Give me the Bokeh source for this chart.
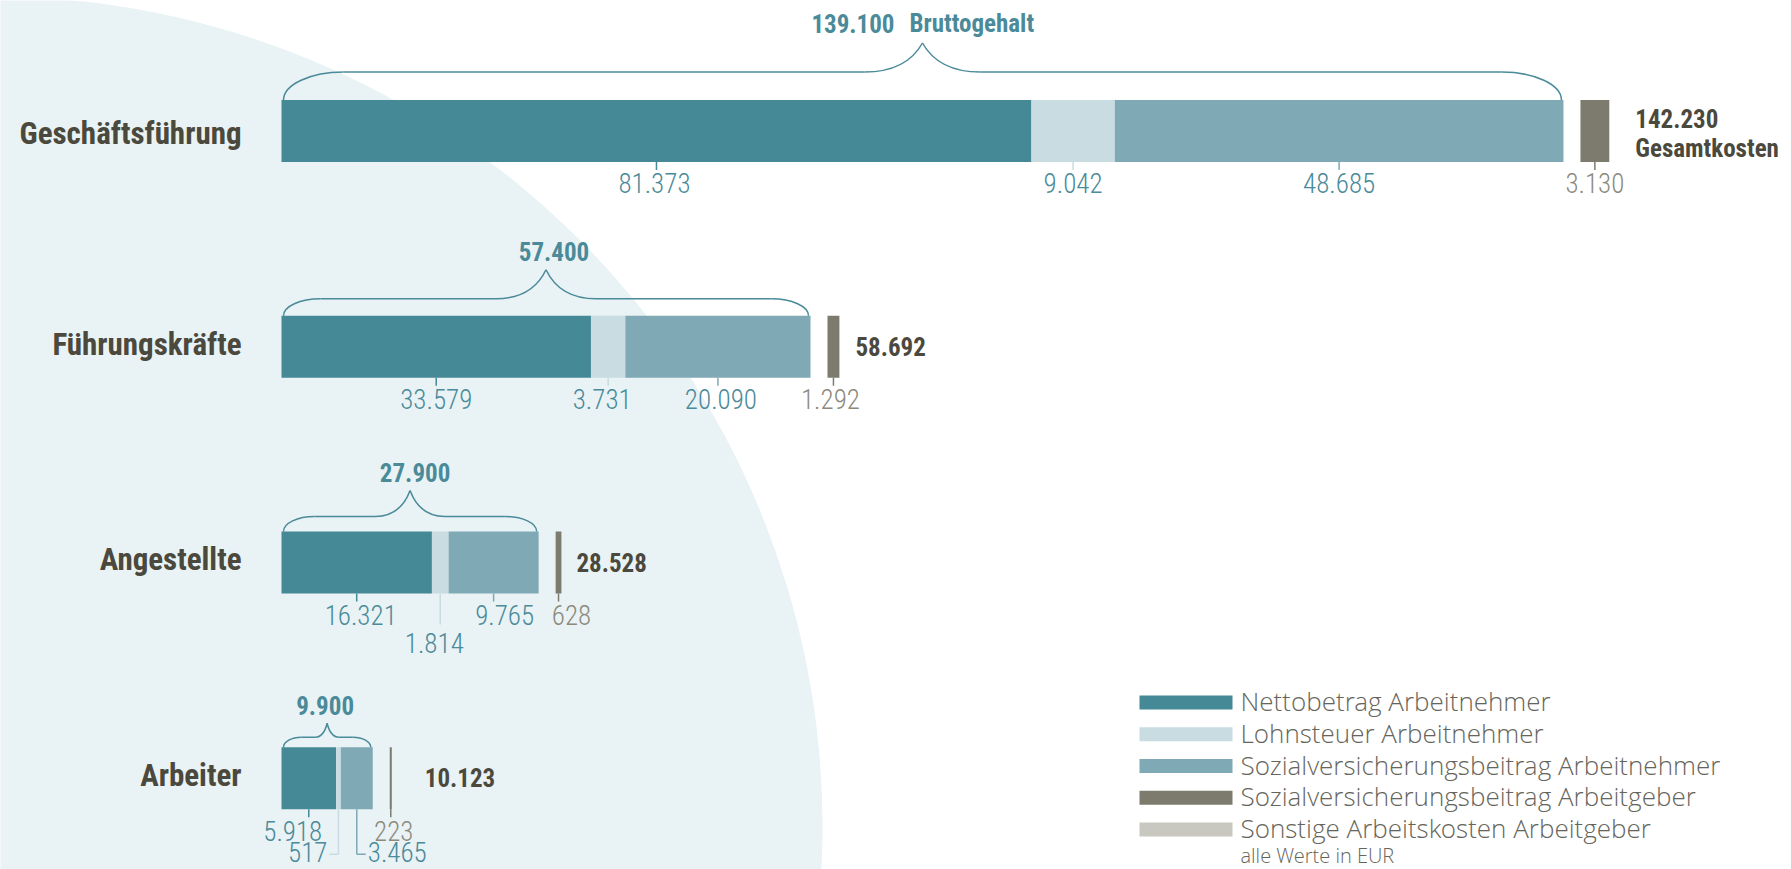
from bokeh.plotting import figure
from bokeh.models import Range1d
from bokeh.core.properties import value
from bokeh.embed import file_html
from bokeh.resources import INLINE

# ---------------- data ----------------
categories = ["Geschäftsführung", "Führungskräfte", "Angestellte", "Arbeiter"]
netto_an = [81373, 33579, 16321, 5918]
lohnsteuer_an = [9042, 3731, 1814, 517]
sozialvers_an = [48685, 20090, 9765, 3465]
sozialvers_ag = [3130, 1292, 628, 223]
bruttogehalt = [139100, 57400, 27900, 9900]
gesamtkosten = [142230, 58692, 28528, 10123]
series_labels = [
    "Nettobetrag Arbeitnehmer",
    "Lohnsteuer Arbeitnehmer",
    "Sozialversicherungsbeitrag Arbeitnehmer",
    "Sozialversicherungsbeitrag Arbeitgeber",
    "Sonstige Arbeitskosten Arbeitgeber",
]
brutto_caption = "Bruttogehalt"
gesamt_caption = "Gesamtkosten"
unit_note = "alle Werte in EUR"

# ---------------- styles ----------------
C_NET, C_LST, C_SVAN, C_SVAG, C_SONST = "#458896", "#c8dce2", "#7fa9b5", "#7d7b6e", "#c8c8c0"
SERIES_COLORS = [C_NET, C_LST, C_SVAN, C_SVAG, C_SONST]
C_BG = "#e9f2f4"
C_DARK = "#4b493d"
C_TEAL = "#4a8a99"
C_GRAYTXT = "#8c8a7d"
C_LEGTXT = "#66655b"
F_BOLD = "Roboto Condensed, Roboto, sans-serif"
F_LIGHT = "Roboto Condensed Light, Roboto Condensed, Roboto, sans-serif"
F_LEG = "Open Sans Light, Open Sans, sans-serif"

W, H = 1791, 869
X0_PX = 281          # pixel of 0 EUR
PX_PER_EUR = 0.009216
ROW0_PX = 130.5      # pixel of first row centre
ROW_PX = 215.75      # pixels between rows
BAR_PX = 62
GAP_PX = 17
BASE_CORR = 0.36     # measured shift of the rendered baseline, in em


def xpx(px):
    return (px - X0_PX) / PX_PER_EUR


def ypx(py):
    return (py - ROW0_PX) / ROW_PX


def dxe(px):
    return px / PX_PER_EUR


def dyi(px):
    return px / ROW_PX


def fmt(v):
    return f"{v:,}".replace(",", ".")


p = figure(width=W, height=H, x_range=Range1d(xpx(0), xpx(W)), y_range=Range1d(ypx(H), ypx(0)),
           x_axis_type=None, y_axis_type=None, output_backend="svg", toolbar_location=None,
           min_border=0)
p.grid.visible = False
p.outline_line_color = None
p.background_fill_color = "white"
p.border_fill_color = "white"


def txt(x, y, text, size, font, color, align="left", bold=False, **kw):
    """text whose alphabetic baseline sits at data y"""
    ys = [v - dyi(BASE_CORR * size) for v in y]
    p.text(x=x, y=ys, text=text, text_font=value(font), text_font_size=f"{size}px",
           text_font_style="bold" if bold else "normal", text_color=color, text_align=align,
           text_baseline="alphabetic", **kw)


# background circle
p.scatter(x=[xpx(-8)], y=[ypx(826)], size=1660, marker="circle", fill_color=C_BG, line_color=None)

rows = list(range(len(categories)))
half = dyi(BAR_PX) / 2

l_net = [0] * len(rows)
r_net = list(netto_an)
l_lst = r_net
r_lst = [a + b for a, b in zip(r_net, lohnsteuer_an)]
l_sv = r_lst
r_sv = [a + b for a, b in zip(r_lst, sozialvers_an)]
l_ag = [b + dxe(GAP_PX) for b in bruttogehalt]
r_ag = [a + b for a, b in zip(l_ag, sozialvers_ag)]

segs = [(l_net, r_net, C_NET, netto_an, C_TEAL),
        (l_lst, r_lst, C_LST, lohnsteuer_an, C_TEAL),
        (l_sv, r_sv, C_SVAN, sozialvers_an, C_TEAL),
        (l_ag, r_ag, C_SVAG, sozialvers_ag, C_GRAYTXT)]

for l, r, c, _, _ in segs:
    p.hbar(y=rows, left=l, right=r, height=dyi(BAR_PX), fill_color=c, line_color=None)

# value labels under bars
LABEL_MODE = [["below", "below", "below", "below"],
              ["below", "below", "below", "below"],
              ["below", "below2", "below", "below"],
              ["below", "elbow_left", "elbow_right", "below"]]
LABEL_DX = [[-2, 0, 0, 0], [0, -6, 3, -3], [4, -6, 11, 13], [-16, 0, 0, 3]]
VAL_SIZE = 27

for s, (l, r, c, vals, tc) in enumerate(segs):
    for i in rows:
        xc = (l[i] + r[i]) / 2
        yb = i + half
        mode = LABEL_MODE[i][s]
        t = fmt(vals[i])
        if mode in ("below", "below2"):
            tick = 8 if mode == "below" else 31
            base = 31 if mode == "below" else 59
            p.segment(x0=[xc], y0=[yb], x1=[xc], y1=[yb + dyi(tick)], line_color=c, line_width=1.5)
            txt([xc + dxe(LABEL_DX[i][s])], [yb + dyi(base)], [t], VAL_SIZE, F_LIGHT, tc, "center")
        else:
            sign = -1 if mode == "elbow_left" else 1
            ye = yb + dyi(45)
            p.segment(x0=[xc], y0=[yb], x1=[xc], y1=[ye], line_color=c, line_width=1.5)
            p.segment(x0=[xc], y0=[ye], x1=[xc + sign * dxe(9)], y1=[ye], line_color=c, line_width=1.5)
            txt([xc + sign * dxe(11)], [yb + dyi(52)], [t], VAL_SIZE, F_LIGHT, tc,
                "right" if sign < 0 else "left")

# braces above bars
BRACE = [(60, 28, 58, 29), (37, 17, 50, 29), (31, 15, 35, 26), (18, 10, 12, 14)]
BRACE_LABEL_DX = [0, 8, 5, -2]
bz = {k: [] for k in ("x0", "y0", "x1", "y1", "cx0", "cy0", "cx1", "cy1")}
sg = {k: [] for k in ("x0", "y0", "x1", "y1")}


def add_bz(a, b, c0, c1):
    bz["x0"].append(a[0]); bz["y0"].append(a[1])
    bz["x1"].append(b[0]); bz["y1"].append(b[1])
    bz["cx0"].append(c0[0]); bz["cy0"].append(c0[1])
    bz["cx1"].append(c1[0]); bz["cy1"].append(c1[1])


for i in rows:
    cw, h1, pw, h2 = BRACE[i]
    xL = dxe(2)
    xR = bruttogehalt[i] - dxe(2)
    xm = bruttogehalt[i] / 2
    ytop = i - half
    yline = ytop - dyi(h1)
    ypeak = yline - dyi(h2)
    cwe, pwe = dxe(cw), dxe(pw)
    add_bz((xL, ytop), (xL + cwe, yline), (xL, ytop - dyi(h1 * 0.55)), (xL + cwe * 0.45, yline))
    add_bz((xR, ytop), (xR - cwe, yline), (xR, ytop - dyi(h1 * 0.55)), (xR - cwe * 0.45, yline))
    add_bz((xm - pwe, yline), (xm, ypeak), (xm - pwe * 0.5, yline), (xm - pwe * 0.18, yline - dyi(h2 * 0.35)))
    add_bz((xm + pwe, yline), (xm, ypeak), (xm + pwe * 0.5, yline), (xm + pwe * 0.18, yline - dyi(h2 * 0.35)))
    for a, b in ((xL + cwe, xm - pwe), (xm + pwe, xR - cwe)):
        sg["x0"].append(a); sg["x1"].append(b); sg["y0"].append(yline); sg["y1"].append(yline)
    if i == 0:
        yl = ypeak - dyi(11)
        txt([xm - dxe(28)], [yl], [fmt(bruttogehalt[i])], 25, F_BOLD, C_TEAL, "right", True)
        txt([xm - dxe(13)], [yl], [brutto_caption], 25, F_BOLD, C_TEAL, "left", True)
    else:
        txt([xm + dxe(BRACE_LABEL_DX[i])], [ypeak - dyi(9)], [fmt(bruttogehalt[i])], 25, F_BOLD,
            C_TEAL, "center", True)

p.bezier(line_color=C_TEAL, line_width=1.5, **bz)
p.segment(line_color=C_TEAL, line_width=1.5, **sg)

# category labels
CAT_DY = [14, 9, 8, 8]
txt([-dxe(40)] * len(rows), [i + dyi(CAT_DY[i]) for i in rows], categories, 31, F_BOLD, C_DARK,
    "right", True)

# totals
TOTAL_DX = [26, 16, 15, 33]
TOTAL_DY = [-3.5, 8.5, 8.5, 8.5]
txt([r_ag[i] + dxe(TOTAL_DX[i]) for i in rows], [i + dyi(TOTAL_DY[i]) for i in rows],
    [fmt(v) for v in gesamtkosten], 25, F_BOLD, C_DARK, "left", True)
txt([r_ag[0] + dxe(TOTAL_DX[0])], [dyi(26.5)], [gesamt_caption], 25, F_BOLD, C_DARK, "left", True)

# legend (manual)
LEG_X0, LEG_X1, LEG_TX = 1139, 1232, 1240
LEG_Y0, LEG_STEP, LEG_SW = 702, 31.75, 14
ly = [ypx(LEG_Y0 + LEG_STEP * j) for j in range(len(series_labels))]
p.hbar(y=ly, left=[xpx(LEG_X0)] * len(ly), right=[xpx(LEG_X1)] * len(ly), height=dyi(LEG_SW),
       fill_color=SERIES_COLORS, line_color=None)
txt([xpx(LEG_TX)] * len(ly), [v + dyi(8) for v in ly], series_labels, 26, F_LEG, C_LEGTXT)
txt([xpx(LEG_TX)], [ypx(862)], [unit_note], 20, F_LEG, C_LEGTXT)

open("out.html", "w").write(file_html(p, INLINE))
